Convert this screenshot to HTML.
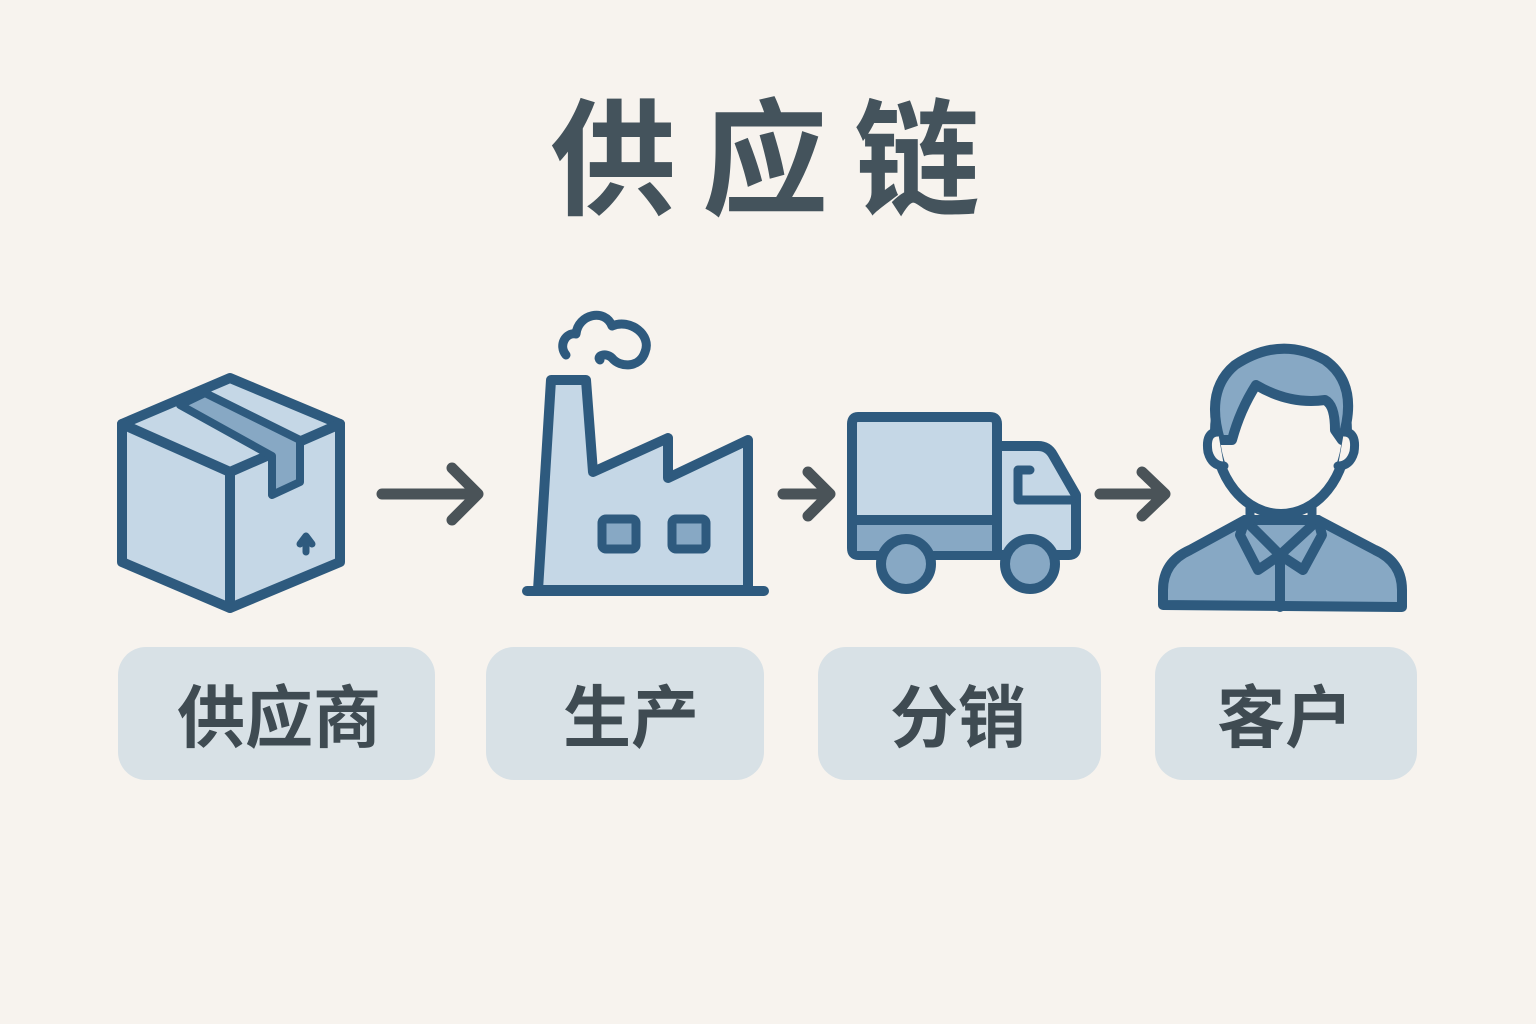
<!DOCTYPE html>
<html><head><meta charset="utf-8"><style>
body{margin:0;background:#f7f3ee;}
svg{display:block}
text{font-family:"Liberation Sans","Noto Sans CJK SC",sans-serif;font-weight:bold;}
</style></head><body>
<svg width="1536" height="1024" viewBox="0 0 1536 1024" xmlns="http://www.w3.org/2000/svg">
<rect width="1536" height="1024" fill="#f7f3ee"/>
<text x="778" y="205" font-size="126" fill="#44535c" text-anchor="middle" letter-spacing="26">供应链</text>

<g stroke="#2e5a7e" stroke-width="10" stroke-linejoin="round" stroke-linecap="round">
<!-- box -->
<polygon points="230,378 340,424 340,562 230,608 122,562 122,424" fill="#c5d7e6"/>
<polyline points="122,424 230,472 340,424" fill="none"/>
<line x1="230" y1="472" x2="230" y2="608"/>
<polygon points="180,405 205,393 300,440 300,482 272,495 272,456" fill="#87a8c4" stroke-width="8"/>
<path d="M306 552 L306 540 M300 544 L306 536 L312 544" fill="none" stroke-width="7"/>
<!-- factory -->
<path d="M551 380 L586 380 L593 472 L668 438 L668 478 L748 440 L748 590 L538 590 Z" fill="#c5d7e6"/>
<line x1="527" y1="591" x2="764" y2="591"/>
<rect x="602" y="519" width="34" height="30" rx="4" fill="#87a8c4" stroke-width="9"/>
<rect x="672" y="519" width="34" height="30" rx="4" fill="#87a8c4" stroke-width="9"/>
<path d="M566 355 C558 345 566 332 576 334 C578 314 605 308 612 326 C630 318 652 335 645 352 C640 368 620 368 612 358 C606 352 596 356 600 360" fill="none" stroke-width="9"/>
<!-- truck -->
<path d="M858 417 L990 417 Q997 417 997 424 L997 446 L1038 446 Q1048 446 1053 455 L1076 495 L1076 548 Q1076 555 1069 555 L858 555 Q852 555 852 548 L852 424 Q852 417 858 417 Z" fill="#c5d7e6"/>
<rect x="857" y="522" width="140" height="29" fill="#87a8c4" stroke="none"/>
<line x1="852" y1="520" x2="997" y2="520"/>
<line x1="997" y1="446" x2="997" y2="555"/>
<path d="M1018 470 L1030 470 M1018 470 L1018 500 L1072 500" fill="none" stroke-width="9"/>
<circle cx="906" cy="564" r="25" fill="#87a8c4"/>
<circle cx="1030" cy="564" r="25" fill="#87a8c4"/>
<!-- person -->
<path d="M1163 605 L1163 590 Q1163 562 1190 550 L1245 520 L1318 520 L1375 550 Q1402 562 1402 590 L1402 607 Z" fill="#87a8c4"/>
<polygon points="1245,520 1280,555 1258,570 1240,535" fill="#87a8c4"/>
<polygon points="1318,520 1280,555 1303,570 1322,535" fill="#87a8c4"/>
<line x1="1280" y1="555" x2="1280" y2="607"/>
<path d="M1250 495 L1250 522 M1312 495 L1312 522" stroke-width="9"/>
<ellipse cx="1281" cy="432" rx="66" ry="82" fill="#f7f3ee"/>
<path d="M1220 440 Q1205 390 1235 365 Q1280 335 1325 360 Q1360 385 1342 440 L1335 430 Q1335 405 1325 400 Q1290 405 1256 385 Q1240 410 1232 440 Z" fill="#87a8c4"/>
<path d="M1218 432 Q1205 432 1208 452 Q1212 466 1224 466 M1344 432 Q1357 432 1354 452 Q1350 466 1338 466" fill="#f7f3ee" stroke-width="9"/>
</g>
<!-- arrows -->
<g stroke="#4a5358" stroke-width="11" stroke-linecap="round" stroke-linejoin="round" fill="none">
<path d="M382 494 L478 494 M452 468 L478 494 L452 520"/>
<path d="M783 494 L830 494 M808 472 L830 494 L808 516"/>
<path d="M1100 494 L1165 494 M1142 472 L1165 494 L1142 516"/>
</g>
<!-- labels -->
<g fill="#d8e1e6">
<rect x="118" y="647" width="317" height="133" rx="28"/>
<rect x="486" y="647" width="278" height="133" rx="28"/>
<rect x="818" y="647" width="283" height="133" rx="28"/>
<rect x="1155" y="647" width="262" height="133" rx="28"/>
</g>
<g font-size="68" fill="#3f4b52" text-anchor="middle">
<text x="279" y="742">供应商</text>
<text x="631" y="742">生产</text>
<text x="958" y="742">分销</text>
<text x="1285" y="742">客户</text>
</g>
</svg>
</body></html>
